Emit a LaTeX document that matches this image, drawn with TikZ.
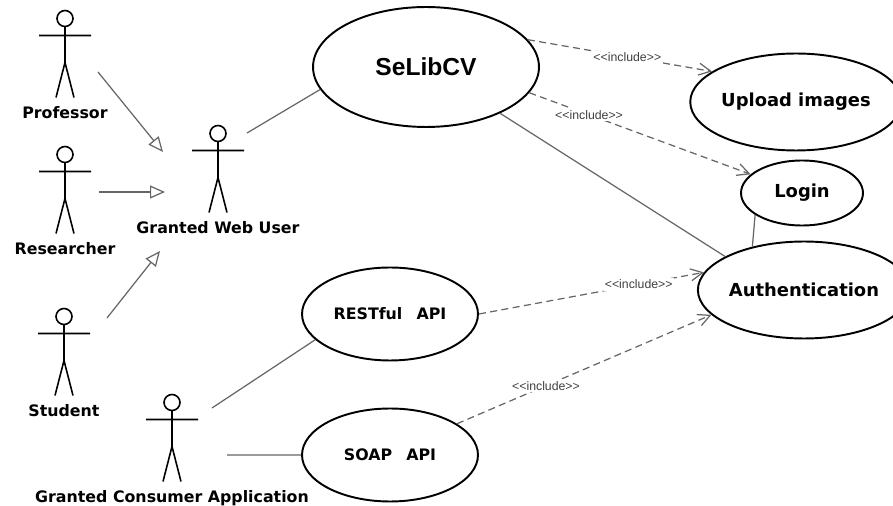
\documentclass[tikz,border=0pt]{standalone}
\usepackage{fontspec}
\setmainfont{DejaVu Sans}
\newfontfamily\arialfont{Liberation Sans}
\usetikzlibrary{shapes,arrows.meta,positioning,calc}

\tikzset{
  usecase/.style={ellipse, draw=black, line width=1.1pt, inner sep=0pt, font=\bfseries\fontsize{10.2}{12}\selectfont},
  apicase/.style={usecase, minimum width=3.52cm, minimum height=1.86cm, font=\bfseries\fontsize{9}{11}\selectfont},
  actorbox/.style={minimum width=1.04cm, minimum height=1.76cm, inner sep=0pt},
  actorname/.style={font=\bfseries\fontsize{9}{11}\selectfont, inner sep=1pt},
  stick/.style={line width=0.9pt, draw=black},
  assoc/.style={draw=black!60, line width=0.7pt},
  gen/.style={assoc, -{Triangle[open, length=3mm, width=2.6mm]}},
  incl/.style={assoc, dash pattern=on 4pt off 2.5pt, -{Straight Barb[length=2.4mm, width=2.4mm]}},
  incllabel/.style={font=\arialfont\fontsize{7}{8}\selectfont, text=black!75, fill=white, inner sep=1pt},
  stickman/.pic={
    \draw[stick] (0,-35) circle[radius=0.16cm];
    \draw[stick] (0,-27) -- (0,9) (-26,-18) -- (26,-18) (-9,44) -- (0,9) -- (9,44);
  }
}

\begin{document}
\begin{tikzpicture}[x=0.02cm, y=-0.02cm]
    \useasboundingbox (0,0) rectangle (893,506);

    % Actors
    \node[actorbox] (prof) at (65,53.5) {};
    \pic at (prof) {stickman};
    \node[actorname, below=0.13cm of prof] (profname) {Professor};

    \node[actorbox] (res) at (65,189.5) {};
    \pic at (res) {stickman};
    \node[actorname, below=0.13cm of res] (resname) {Researcher};

    \node[actorbox] (stud) at (64,351.5) {};
    \pic at (stud) {stickman};
    \node[actorname, below=0.13cm of stud] (studname) {Student};

    \node[actorbox] (gwu) at (218,168.5) {};
    \pic at (gwu) {stickman};
    \node[actorname, below=0.13cm of gwu] (gwuname) {Granted Web User};

    \node[actorbox] (capp) at (172,437.5) {};
    \pic at (capp) {stickman};
    \node[actorname, below=0.13cm of capp] (cappname) {Granted Consumer Application};

    % Use cases
    \node[usecase, minimum width=4.52cm, minimum height=2.4cm, font=\arialfont\bfseries\fontsize{14}{16}\selectfont] (selib) at (426,67) {SeLibCV};
    \node[usecase, minimum width=3.68cm, minimum height=1.94cm] (upload) at (796,102) {Upload images};
    \node[usecase, minimum width=2.44cm, minimum height=1.3cm] (login) at (802,193) {Login};
    \node[usecase, minimum width=3.56cm, minimum height=1.94cm] (auth) at (804,290) {Authentication};
    \node[apicase] (rest) at (390,314) {RESTful\hspace{0.9em}API};
    \node[apicase] (soap) at (390,455) {SOAP\hspace{0.9em}API};

    % Generalisations
    \draw[gen] ([shift={(33,18.5)}]prof.center) -- ([shift={(-55,-16.5)}]gwu.center);
    \draw[gen] ([shift={(34,2.5)}]res.center) -- ([shift={(-53,23.5)}]gwu.center);
    \draw[gen] ([shift={(43,-33.5)}]stud.center) -- ([shift={(-58,82.5)}]gwu.center);

    % Associations
    \draw[assoc] ([shift={(29,-35.5)}]gwu.center) -- (selib.192);
    \draw[assoc] (selib.-32) -- (auth.157);
    \draw[assoc] (login.205) -- (auth.140);
    \draw[assoc] ([shift={(40,-29.5)}]capp.center) -- (rest.199);
    \draw[assoc] ([shift={(55,17.5)}]capp.center) -- (soap.west);

    % Includes
    \draw[incl] (selib.15) -- node[incllabel, pos=0.54] (inclupload) {<{}<include>{}>} (upload.160);
    \draw[incl] (selib.-14) -- node[incllabel, pos=0.27] (incllogin) {<{}<include>{}>} (login.160);
    \draw[incl] (rest.east) -- node[incllabel, pos=0.71] (inclrest) {<{}<include>{}>} (auth.170);
    \draw[incl] (soap.25) -- node[incllabel, pos=0.35] (inclsoap) {<{}<include>{}>} (auth.195);
\end{tikzpicture}
\end{document}
